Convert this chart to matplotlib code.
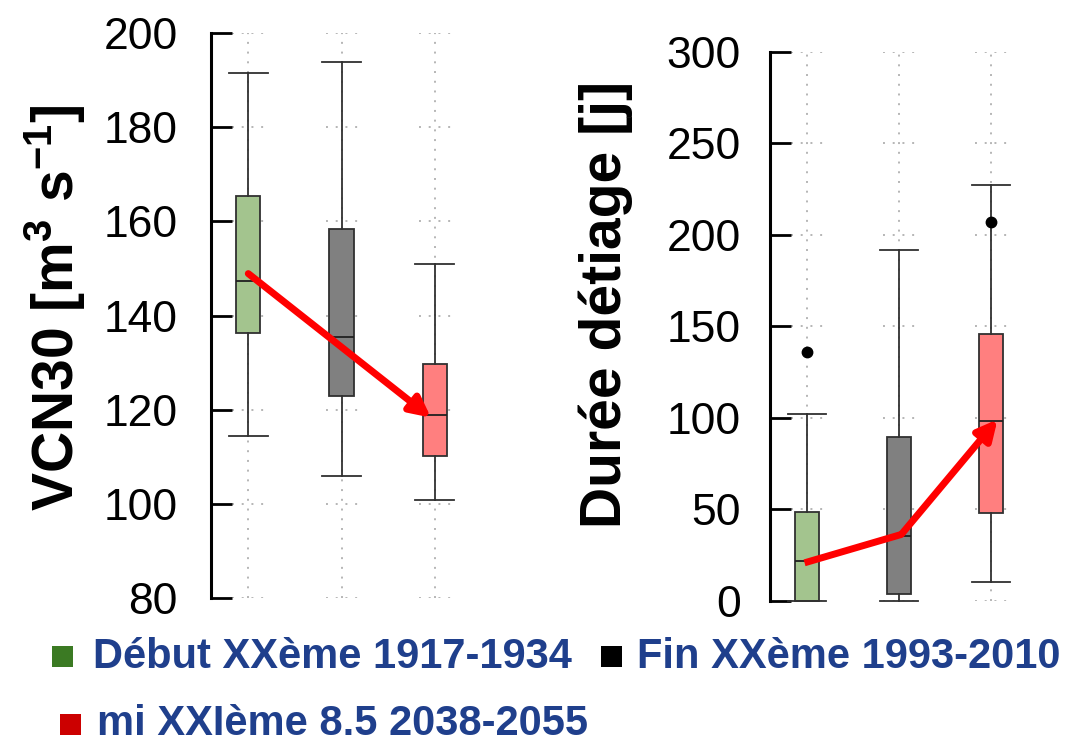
import matplotlib
matplotlib.use("Agg")
import matplotlib.pyplot as plt
from matplotlib.patches import Rectangle

plt.rcParams['font.family'] = ['Liberation Sans', 'DejaVu Sans']
plt.rcParams['mathtext.fontset'] = 'custom'
plt.rcParams['mathtext.bf'] = 'Liberation Sans:bold'
plt.rcParams['mathtext.rm'] = 'Liberation Sans:bold'
plt.rcParams['mathtext.default'] = 'bf'

# ---------------- data ----------------
periods = ["Début XXème 1917-1934", "Fin XXème 1993-2010", "mi XXIème 8.5 2038-2055"]
box_fill = ["#a3c48e", "#808080", "#ff7f7f"]
legend_colors = ["#3b7a23", "#000000", "#cc0000"]

# VCN30 [m3 s-1]: whislo, q1, med, q3, whishi
vcn_whislo = [114.4, 106.0, 100.9]
vcn_q1 = [136.2, 123.0, 110.2]
vcn_med = [147.3, 135.5, 118.8]
vcn_q3 = [165.4, 158.4, 129.7]
vcn_whishi = [191.4, 193.9, 150.9]
vcn_fliers = [[], [], []]
vcn_arrow_x = [1.0, 2.96]
vcn_arrow_y = [148.9, 118.3]

# Durée d'étiage [j]
dur_whislo = [0.0, 0.0, 10.3]
dur_q1 = [0.0, 3.9, 48.0]
dur_med = [21.6, 35.1, 98.0]
dur_q3 = [48.5, 89.2, 146.0]
dur_whishi = [102.0, 191.6, 227.3]
dur_fliers = [[136.0], [], [207.1]]
dur_arrow_x = [0.975, 2.025, 3.07]
dur_arrow_y = [20.7, 36.2, 99.1]

vcn_ticks = [80, 100, 120, 140, 160, 180, 200]
dur_ticks = [0, 50, 100, 150, 200, 250, 300]

positions = [1, 2, 3]

W, H = 1065, 746
fig = plt.figure(figsize=(W / 100, H / 100), dpi=100)


def px_axes(left, top, right, bottom):
    return fig.add_axes([left / W, 1 - bottom / H, (right - left) / W, (bottom - top) / H])


def draw_panel(ax, whislo, q1, med, q3, whishi, fliers, ticks, pad):
    stats = []
    for i in range(3):
        stats.append(dict(whislo=whislo[i], q1=q1[i], med=med[i], q3=q3[i],
                          whishi=whishi[i], fliers=fliers[i]))
    ymin, ymax = ticks[0], ticks[-1]
    # dotted grid near each box
    for p in positions:
        ax.vlines(p, ymin, ymax, colors="#b5b5b5", linestyles=(0, (1, 4)), lw=1.4, zorder=0)
        ax.hlines(ticks, p - 0.17, p + 0.18, colors="#b5b5b5", linestyles=(0, (1, 4)), lw=1.4, zorder=0)
    art = ax.bxp(stats, positions=positions, widths=0.26, capwidths=0.42,
                 patch_artist=True, showfliers=True,
                 boxprops=dict(edgecolor="#303030", linewidth=1.3),
                 medianprops=dict(color="#202020", linewidth=1.3),
                 whiskerprops=dict(color="#303030", linewidth=1.3),
                 capprops=dict(color="#303030", linewidth=1.3),
                 flierprops=dict(marker="o", markerfacecolor="black", markeredgecolor="black",
                                 markersize=7.5))
    for patch, c in zip(art["boxes"], box_fill):
        patch.set_facecolor(c)
    for key in art:
        for a in art[key]:
            a.set_clip_on(False)
            a.set_zorder(2)
    ax.set_xlim(0.6, 3.4)
    ax.set_ylim(ymin, ymax)
    ax.set_yticks(ticks)
    ax.set_xticks([])
    for s in ["top", "right", "bottom"]:
        ax.spines[s].set_visible(False)
    ax.spines["left"].set_linewidth(2.2)
    ax.spines["left"].set_capstyle("projecting")
    ax.tick_params(axis="y", direction="in", length=15, width=2.0, labelsize=32, pad=pad)
    ax.patch.set_alpha(0)


ax1 = px_axes(211, 33, 472, 598)
draw_panel(ax1, vcn_whislo, vcn_q1, vcn_med, vcn_q3, vcn_whishi, vcn_fliers, vcn_ticks, 24)
ax1.annotate("", xy=(vcn_arrow_x[1], vcn_arrow_y[1]), xytext=(vcn_arrow_x[0], vcn_arrow_y[0]),
             arrowprops=dict(arrowstyle="-|>", color="#ff0000", lw=5, mutation_scale=30,
                             shrinkA=0, shrinkB=0), zorder=5)
ax1.set_ylabel("VCN30 [m$^{3}$ s$^{-1}$]", fontsize=41, fontweight="bold")
ax1.yaxis.set_label_coords(-0.47, 0.513)

ax2 = px_axes(770, 51.7, 1028, 600.7)
draw_panel(ax2, dur_whislo, dur_q1, dur_med, dur_q3, dur_whishi, dur_fliers, dur_ticks, 21)
ax2.plot(dur_arrow_x[:2], dur_arrow_y[:2], color="#ff0000", lw=5, solid_capstyle="butt", zorder=5)
ax2.annotate("", xy=(dur_arrow_x[2], dur_arrow_y[2]), xytext=(dur_arrow_x[1], dur_arrow_y[1]),
             arrowprops=dict(arrowstyle="-|>", color="#ff0000", lw=5, mutation_scale=30,
                             shrinkA=0, shrinkB=0), zorder=5)
ax2.set_ylabel("Durée détiage [j]", fontsize=41, fontweight="bold")
ax2.yaxis.set_label_coords(-0.53, 0.539)

# ---------------- legend ----------------
text_color = "#1f3f8c"
legend_text_xy = [(93, 668), (637, 668), (97, 735)]
legend_sq_center = [(62.5, 656), (611, 656), (70, 724)]
sq = 21
for lab, col, (tx, ty), (sx, sy) in zip(periods, legend_colors, legend_text_xy, legend_sq_center):
    fig.add_artist(Rectangle(((sx - sq / 2) / W, 1 - (sy + sq / 2) / H), sq / W, sq / H,
                             transform=fig.transFigure, facecolor=col, edgecolor="none"))
    fig.text(tx / W, 1 - ty / H, lab, color=text_color, fontsize=30, fontweight="bold",
             ha="left", va="baseline")

fig.savefig("out.png", dpi=100)
